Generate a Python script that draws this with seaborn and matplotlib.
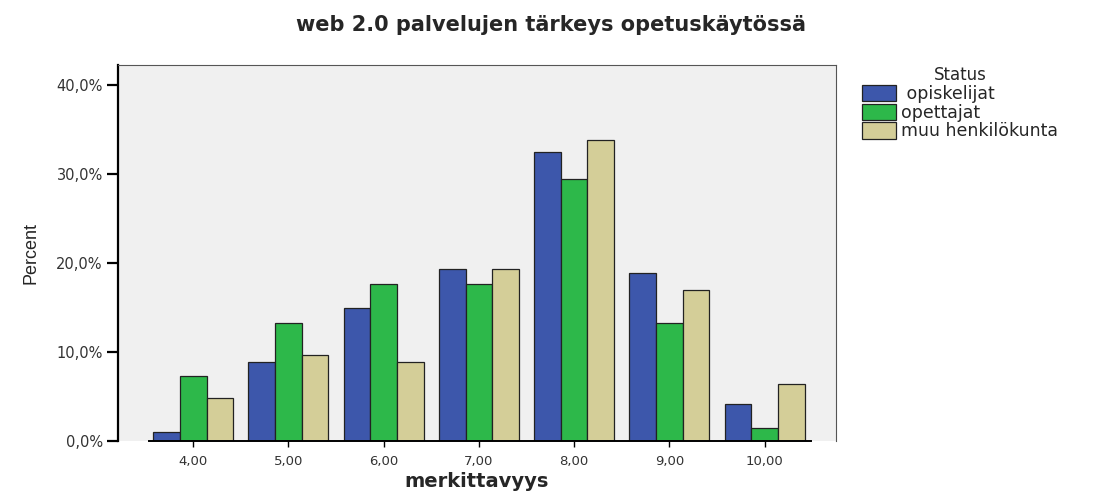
import seaborn as sns
import matplotlib.pyplot as plt
import pandas as pd
from matplotlib.ticker import FuncFormatter

# Arvot luettu kuvasta (prosentteina)
merkittavyys = ["4,00", "5,00", "6,00", "7,00", "8,00", "9,00", "10,00"]
status = [" opiskelijat", "opettajat", "muu henkilökunta"]
opiskelijat = [1.0, 8.9, 14.9, 19.3, 32.4, 18.9, 4.1]
opettajat = [7.3, 13.2, 17.6, 17.6, 29.4, 13.2, 1.5]
muu_henkilokunta = [4.8, 9.7, 8.9, 19.3, 33.8, 16.9, 6.4]
varit = ["#3d57ab", "#2db84a", "#d4ce98"]

df = pd.DataFrame({
    "merkittavyys": merkittavyys * 3,
    "Status": [status[0]] * 7 + [status[1]] * 7 + [status[2]] * 7,
    "Percent": opiskelijat + opettajat + muu_henkilokunta,
})

sns.set_style("white")
plt.rcParams["font.family"] = ["DejaVu Sans"]

fig = plt.figure(figsize=(10.95, 4.91), dpi=100)
ax = fig.add_axes([0.1078, 0.1018, 0.6557, 0.7658])
ax.set_facecolor("#f0f0f0")

sns.barplot(data=df, x="merkittavyys", y="Percent", hue="Status",
            order=merkittavyys, hue_order=status, palette=varit,
            saturation=1, width=0.84, edgecolor="#222222", linewidth=0.9,
            ax=ax, legend=False)

ax.set_xlim(-0.79, 6.75)
ax.set_ylim(0, 42.2)
ax.set_yticks([0, 10, 20, 30, 40])
ax.yaxis.set_major_formatter(FuncFormatter(lambda v, p: f"{v:.1f}%".replace(".", ",")))

for s in ["top", "right"]:
    ax.spines[s].set_color("#555555")
    ax.spines[s].set_linewidth(0.8)
ax.spines["left"].set_color("black")
ax.spines["left"].set_linewidth(1.6)
ax.spines["bottom"].set_color("black")
ax.spines["bottom"].set_linewidth(1.4)
ax.spines["bottom"].set_bounds(-0.47, 6.49)

ax.tick_params(axis="y", left=True, direction="out", length=8, width=1.6,
               color="black", labelsize=10.5, labelcolor="#333333", pad=3)
ax.tick_params(axis="x", bottom=True, direction="out", length=4, width=1,
               color="black", labelsize=9.5, labelcolor="#333333", pad=6)

ax.set_xlabel("merkittavyys", fontsize=14, fontweight="bold", labelpad=3)
ax.set_ylabel("Percent", fontsize=13,
              family=["Liberation Sans Narrow", "Liberation Sans"], labelpad=12)

fig.suptitle("web 2.0 palvelujen tärkeys opetuskäytössä", x=0.503, y=0.97,
             fontsize=15, fontweight="bold")

# Selite
kahvat = [plt.Rectangle((0, 0), 1, 1, facecolor=c, edgecolor="#222222", linewidth=0.9)
          for c in varit]
fig.legend(kahvat, status, title="Status", loc="upper left",
           bbox_to_anchor=(0.781, 0.88), frameon=False, fontsize=12.5,
           title_fontsize=12, handlelength=1.95, handleheight=1.05,
           handletextpad=0.3, labelspacing=0.05, borderaxespad=0)

plt.savefig("out.png", dpi=100)
